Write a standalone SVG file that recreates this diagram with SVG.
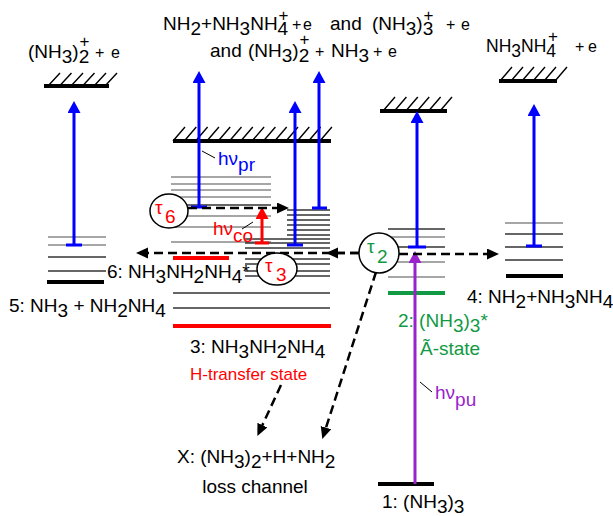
<svg xmlns="http://www.w3.org/2000/svg" width="613" height="516" viewBox="0 0 613 516">
<defs>
<style>
text{font-family:"Liberation Sans",Arial,sans-serif;}
.t{font-size:19px;fill:#000}
.s{font-size:16px;fill:#000}
.r{font-size:17.5px;fill:#000}
.sup{font-size:17px;fill:#000}
.thin{stroke:#333;stroke-width:1.3}
.grey{stroke:#888;stroke-width:1.3}
.thick{stroke:#000;stroke-width:4}
.hatch{stroke:#000;stroke-width:1.4;fill:none}
.blue{stroke:#0000FF;stroke-width:3;fill:none}
.bar{stroke:#0000FF;stroke-width:3}
.dash{stroke:#000;stroke-width:2.5;stroke-dasharray:9 5;fill:none}
.circ{fill:#fff;stroke:#000;stroke-width:1.5}
.lead{stroke:#000;stroke-width:1}
.red{fill:#FF0000}
.grn{fill:#119944}
.pur{fill:#9922CC}
.bl{fill:#0000FF}
</style>
<marker id="hb" markerUnits="userSpaceOnUse" markerWidth="14" markerHeight="14" refX="1" refY="6.5" orient="auto"><path d="M0,0 L12,6.5 L0,13 z" fill="#0000FF"/></marker>
<marker id="hr" markerUnits="userSpaceOnUse" markerWidth="14" markerHeight="14" refX="1" refY="6.5" orient="auto"><path d="M0,0 L12,6.5 L0,13 z" fill="#FF0000"/></marker>
<marker id="hp" markerUnits="userSpaceOnUse" markerWidth="14" markerHeight="14" refX="1" refY="6.5" orient="auto"><path d="M0,0 L12,6.5 L0,13 z" fill="#9922CC"/></marker>
<marker id="hk" markerUnits="userSpaceOnUse" markerWidth="14" markerHeight="12" refX="1" refY="5.5" orient="auto"><path d="M0,0 L12,5.5 L0,11 z" fill="#000"/></marker>
</defs>
<rect width="613" height="516" fill="#fff"/>

<g id="ion5">
<line class="thick" x1="44" y1="86" x2="109" y2="86"/>
<path class="hatch" d="M48,86 l12,-13 M59.5,86 l12,-13 M71,86 l12,-13 M82.5,86 l12,-13 M94,86 l12,-13 M105,86 l12,-13"/>
<text class="t" x="28" y="58">(NH<tspan dy="5">3</tspan><tspan dy="-5">)</tspan><tspan dy="5">2</tspan></text>
<text class="sup" x="79.5" y="47">+</text>
<text class="s" x="95" y="58">+</text><text class="s" x="111" y="58">e</text>
</g>

<g id="state5">
<line class="grey" x1="48" y1="237" x2="106" y2="237"/>
<line class="grey" x1="48" y1="245" x2="106" y2="245"/>
<line class="thin" x1="48" y1="257" x2="106" y2="257"/>
<line class="thin" x1="48" y1="271" x2="106" y2="271"/>
<line class="thick" x1="47" y1="282" x2="104" y2="282"/>
<text class="t" x="9" y="312">5: NH<tspan dy="5">3</tspan><tspan dy="-5"> + NH</tspan><tspan dy="5">2</tspan><tspan dy="-5">NH</tspan><tspan dy="5">4</tspan></text>
</g>

<g id="ion-mid">
<line class="thick" x1="173" y1="141" x2="331" y2="141"/>
<path class="hatch" d="M173,141 l12,-14 M184.3,141 l12,-14 M195.6,141 l12,-14 M206.9,141 l12,-14 M218.2,141 l12,-14 M229.5,141 l12,-14 M240.8,141 l12,-14 M252.1,141 l12,-14 M263.4,141 l12,-14 M274.7,141 l12,-14 M286,141 l12,-14 M297.3,141 l12,-14 M308.6,141 l12,-14 M319.9,141 l12,-14"/>
<text class="t" x="163" y="30">NH<tspan dy="5">2</tspan><tspan dy="-5">+NH</tspan><tspan dy="5">3</tspan><tspan dy="-5">NH</tspan><tspan dy="5">4</tspan></text>
<text class="sup" x="278.5" y="21">+</text>
<text class="s" x="292" y="30">+</text><text class="s" x="303" y="30">e</text>
<text class="t" x="330" y="30">and</text>
<text class="t" x="372" y="30">(NH<tspan dy="5">3</tspan><tspan dy="-5">)</tspan><tspan dy="5">3</tspan></text>
<text class="sup" x="423.5" y="21">+</text>
<text class="s" x="446" y="30">+</text><text class="s" x="461" y="30">e</text>
<text class="t" x="210" y="57">and</text>
<text class="t" x="248" y="57">(NH<tspan dy="5">3</tspan><tspan dy="-5">)</tspan><tspan dy="5">2</tspan></text>
<text class="sup" x="299.5" y="45">+</text>
<text class="s" x="315" y="57">+</text>
<text class="t" x="331" y="57">NH<tspan dy="5">3</tspan></text>
<text class="s" x="373" y="57">+</text><text class="s" x="388" y="57">e</text>
</g>

<g id="state6">
<line class="grey" x1="171" y1="177" x2="271" y2="177"/>
<line class="grey" x1="171" y1="184" x2="271" y2="184"/>
<line class="grey" x1="171" y1="190" x2="271" y2="190"/>
<line class="grey" x1="171" y1="197" x2="271" y2="197"/>
<line class="thin" x1="171" y1="205" x2="271" y2="205"/>
<line class="grey" x1="171" y1="216" x2="271" y2="216"/>
<line class="grey" x1="171" y1="227" x2="271" y2="227"/>
<line class="grey" x1="171" y1="242" x2="271" y2="242"/>
<line stroke="#FF0000" stroke-width="4" x1="173" y1="258" x2="229" y2="258"/>
<text class="t" x="107" y="278">6: NH<tspan dy="5">3</tspan><tspan dy="-5">NH</tspan><tspan dy="5">2</tspan><tspan dy="-5">NH</tspan><tspan dy="5">4</tspan><tspan dy="-5">*</tspan></text>
</g>

<g id="state3">
<line class="thin" x1="287" y1="210" x2="330" y2="210"/>
<line class="thin" x1="287" y1="215" x2="330" y2="215"/>
<line class="thin" x1="287" y1="220" x2="330" y2="220"/>
<line class="thin" x1="287" y1="225" x2="330" y2="225"/>
<line class="thin" x1="287" y1="230" x2="330" y2="230"/>
<line class="thin" x1="287" y1="235" x2="330" y2="235"/>
<line class="thin" x1="245" y1="239" x2="330" y2="239"/>
<line class="thin" x1="245" y1="243" x2="330" y2="243"/>
<line class="thin" x1="245" y1="248" x2="330" y2="248"/>
<line class="thin" x1="245" y1="259" x2="330" y2="259"/>
<line class="thin" x1="245" y1="264" x2="330" y2="264"/>
<line class="thin" x1="245" y1="271" x2="330" y2="271"/>
<line class="thin" x1="245" y1="276" x2="330" y2="276"/>
<line class="thin" x1="173" y1="293" x2="330" y2="293"/>
<line class="thin" x1="173" y1="308" x2="330" y2="308"/>
<line stroke="#FF0000" stroke-width="4" x1="173" y1="326" x2="331" y2="326"/>
<text class="t" x="190" y="353">3: NH<tspan dy="5">3</tspan><tspan dy="-5">NH</tspan><tspan dy="5">2</tspan><tspan dy="-5">NH</tspan><tspan dy="5">4</tspan></text>
<text class="red" x="190" y="380" font-size="17">H-transfer state</text>
</g>

<g id="ion2">
<line class="thick" x1="380" y1="111" x2="447" y2="111"/>
<path class="hatch" d="M383,111 l12,-14 M394.4,111 l12,-14 M405.8,111 l12,-14 M417.2,111 l12,-14 M428.6,111 l12,-14 M440,111 l12,-14"/>
</g>

<g id="state2">
<line class="thin" x1="388" y1="229" x2="445" y2="229"/>
<line class="grey" x1="388" y1="237" x2="445" y2="237"/>
<line class="thin" x1="388" y1="247" x2="445" y2="247"/>
<line class="grey" x1="388" y1="262" x2="445" y2="262"/>
<line class="grey" x1="388" y1="277" x2="445" y2="277"/>
<line stroke="#119944" stroke-width="4" x1="388" y1="293" x2="445" y2="293"/>
<text class="t grn" x="398" y="327">2: (NH<tspan dy="5">3</tspan><tspan dy="-5">)</tspan><tspan dy="5">3</tspan><tspan dy="-5">*</tspan></text>
<text class="t grn" x="420" y="355">Ã-state</text>
</g>

<g id="ion4">
<line class="thick" x1="499" y1="81" x2="557" y2="81"/>
<path class="hatch" d="M500,81 l12,-14 M511,81 l12,-14 M522,81 l12,-14 M533,81 l12,-14 M544,81 l12,-14 M555,81 l12,-14"/>
<text class="r" x="486" y="52">NH<tspan dy="5">3</tspan><tspan dy="-5">NH</tspan><tspan dy="5">4</tspan></text>
<text class="sup" x="548" y="42">+</text>
<text class="s" x="575" y="52">+</text><text class="s" x="588" y="52">e</text>
</g>

<g id="state4">
<line class="grey" x1="505" y1="223" x2="563" y2="223"/>
<line class="thin" x1="505" y1="234" x2="563" y2="234"/>
<line class="thin" x1="505" y1="247" x2="563" y2="247"/>
<line class="thin" x1="505" y1="260" x2="563" y2="260"/>
<line class="thick" x1="506" y1="276" x2="563" y2="276"/>
<text class="t" x="467" y="303">4: NH<tspan dy="5">2</tspan><tspan dy="-5">+NH</tspan><tspan dy="5">3</tspan><tspan dy="-5">NH</tspan><tspan dy="5">4</tspan></text>
</g>

<g id="state1">
<line class="thick" x1="378" y1="484" x2="434" y2="484"/>
<text class="t" x="382" y="508">1: (NH<tspan dy="5">3</tspan><tspan dy="-5">)</tspan><tspan dy="5">3</tspan></text>
</g>

<g id="lossX">
<text class="t" x="177" y="463">X: (NH<tspan dy="5">3</tspan><tspan dy="-5">)</tspan><tspan dy="5">2</tspan><tspan dy="-5">+H+NH</tspan><tspan dy="5">2</tspan></text>
<text class="t" x="255" y="493" text-anchor="middle">loss channel</text>
</g>

<g id="connectors">
<line class="blue" x1="74" y1="245" x2="74" y2="112" marker-end="url(#hb)"/>
<line class="bar" x1="66" y1="245" x2="82" y2="245"/>
<line class="blue" x1="199" y1="207" x2="199" y2="82" marker-end="url(#hb)"/>
<line class="bar" x1="191" y1="207" x2="207" y2="207"/>
<line class="blue" x1="295" y1="245" x2="295" y2="112" marker-end="url(#hb)"/>
<line class="bar" x1="287" y1="245" x2="303" y2="245"/>
<line class="blue" x1="319" y1="208" x2="319" y2="82" marker-end="url(#hb)"/>
<line class="bar" x1="312" y1="208" x2="327" y2="208"/>
<line class="blue" x1="417" y1="247" x2="417" y2="122" marker-end="url(#hb)"/>
<line class="bar" x1="408" y1="247" x2="426" y2="247"/>
<line class="blue" x1="534" y1="246" x2="534" y2="115" marker-end="url(#hb)"/>
<line class="bar" x1="526" y1="246" x2="542" y2="246"/>
<line stroke="#FF0000" stroke-width="3" x1="262" y1="243" x2="262" y2="218" marker-end="url(#hr)"/>
<line stroke="#FF0000" stroke-width="3" x1="255" y1="243" x2="269" y2="243"/>
<line stroke="#9922CC" stroke-width="3" x1="415" y1="484" x2="415" y2="262" marker-end="url(#hp)"/>
<line class="dash" x1="188" y1="208" x2="278" y2="208" marker-end="url(#hk)"/>
<line class="dash" x1="359" y1="253" x2="147" y2="253" marker-end="url(#hk)"/>
<line class="dash" x1="359" y1="253" x2="337" y2="253" marker-end="url(#hk)"/>
<line class="dash" x1="399" y1="254" x2="488" y2="254" marker-end="url(#hk)"/>
<line class="dash" x1="376" y1="272" x2="325.7" y2="428.6" marker-end="url(#hk)"/>
<line class="dash" x1="281" y1="385" x2="262" y2="426" marker-end="url(#hk)"/>
<line class="lead" x1="202" y1="151" x2="215" y2="158"/>
<text class="t bl" x="218" y="165">hν<tspan dy="6">pr</tspan></text>
<line class="lead" x1="242" y1="229" x2="253" y2="222"/>
<text class="t red" x="213" y="235">hν<tspan dy="7">co</tspan></text>
<line class="lead" x1="420" y1="382" x2="432" y2="392"/>
<text class="t pur" x="435" y="399">hν<tspan dy="7">pu</tspan></text>
</g>

<g id="tau6">
<ellipse class="circ" cx="169" cy="211" rx="19" ry="17"/>
<text class="t red" x="155" y="214">τ</text><text class="t red" x="165" y="223">6</text>
</g>
<g id="tau3">
<ellipse class="circ" cx="277" cy="269" rx="20" ry="16"/>
<text class="t red" x="265" y="272">τ</text><text class="t red" x="276" y="281">3</text>
</g>
<g id="tau2">
<circle class="circ" cx="379" cy="253" r="20"/>
<text class="t grn" x="367" y="253">τ</text><text class="t grn" x="377" y="263">2</text>
</g>
</svg>
